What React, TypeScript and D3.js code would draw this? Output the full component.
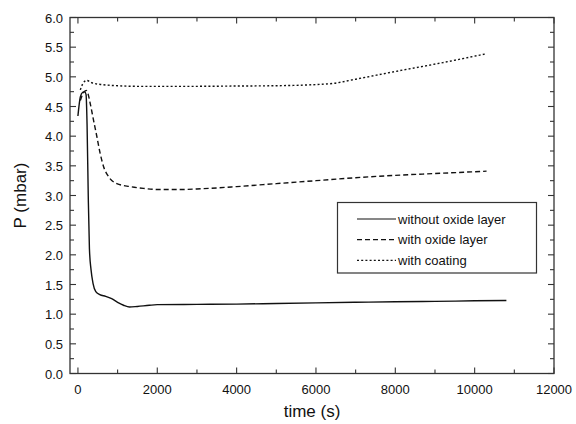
import * as d3 from 'd3';
import React, { useEffect, useRef } from "react";

// time (s) and pressure (mbar)
const timeNoOxide = [0, 60, 120, 170, 205, 230, 260, 290, 330, 380, 450, 550, 700, 850, 1000, 1150, 1300, 1500, 1800, 2000, 3000, 4000, 5000, 6000, 7000, 8000, 9000, 10000, 10800];
const pNoOxide = [4.34, 4.66, 4.74, 4.75, 4.7, 4.2, 3.0, 2.1, 1.75, 1.52, 1.38, 1.33, 1.3, 1.26, 1.2, 1.15, 1.12, 1.13, 1.15, 1.16, 1.165, 1.17, 1.18, 1.19, 1.2, 1.21, 1.215, 1.225, 1.23];

const timeOxide = [60, 130, 210, 260, 310, 393, 478, 560, 645, 770, 980, 1320, 1650, 2070, 2500, 3000, 4000, 5000, 6000, 7000, 8000, 9000, 10300];
const pOxide = [4.6, 4.72, 4.77, 4.7, 4.55, 4.27, 3.99, 3.71, 3.49, 3.32, 3.2, 3.15, 3.12, 3.1, 3.1, 3.11, 3.15, 3.2, 3.25, 3.3, 3.34, 3.37, 3.41];

const timeCoating = [60, 120, 220, 350, 600, 1000, 1500, 2000, 3000, 4000, 5000, 6000, 6440, 7000, 8000, 9200, 10300];
const pCoating = [4.78, 4.88, 4.94, 4.9, 4.87, 4.85, 4.84, 4.84, 4.84, 4.845, 4.85, 4.87, 4.89, 4.96, 5.09, 5.24, 5.39];

const seriesNames = ["without oxide layer", "with oxide layer", "with coating"];
const xTicks = [0, 2000, 4000, 6000, 8000, 10000, 12000];
const yTicks = [0, 0.5, 1, 1.5, 2, 2.5, 3, 3.5, 4, 4.5, 5, 5.5, 6];

const W = 576, H = 424;
const margin = { left: 70, right: 22, top: 17.5, bottom: 50.5 };
const dashes = [null, "5,3", "2,2.2"];

export default function App() {
  const ref = useRef<SVGSVGElement>(null);

  useEffect(() => {
    const svg = d3.select(ref.current);
    svg.selectAll('*').remove();
    const font = "'Liberation Sans', Arial, Helvetica, sans-serif";

    const x = d3.scaleLinear().domain([-200, 12000]).range([margin.left, W - margin.right]);
    const y = d3.scaleLinear().domain([0, 6]).range([H - margin.bottom, margin.top]);

    const g = svg.append("g").attr("font-family", font);

    // frame
    g.append("rect")
      .attr("x", x(-200)).attr("y", y(6))
      .attr("width", x(12000) - x(-200)).attr("height", y(0) - y(6))
      .attr("fill", "none").attr("stroke", "#333").attr("stroke-width", 1.3);

    // x ticks (inward, bottom and top)
    const xMinor = d3.range(0, 12001, 1000);
    xMinor.forEach(t => {
      const len = t % 2000 === 0 ? 6 : 4;
      g.append("line").attr("x1", x(t)).attr("x2", x(t)).attr("y1", y(0)).attr("y2", y(0) - len).attr("stroke", "#333").attr("stroke-width", 1.1);
      g.append("line").attr("x1", x(t)).attr("x2", x(t)).attr("y1", y(6)).attr("y2", y(6) + len).attr("stroke", "#333").attr("stroke-width", 1.1);
    });
    g.selectAll(".xlab").data(xTicks).enter().append("text")
      .attr("x", d => x(d)).attr("y", y(0) + 20)
      .attr("text-anchor", "middle").attr("font-size", 13).attr("fill", "#111")
      .text(d => String(d));

    // y ticks (inward, left and right)
    const yMinor = d3.range(0, 6.001, 0.25);
    yMinor.forEach(v => {
      const major = Math.abs(v * 2 - Math.round(v * 2)) < 1e-6;
      const len = major ? 6 : 4;
      g.append("line").attr("x1", x(-200)).attr("x2", x(-200) + len).attr("y1", y(v)).attr("y2", y(v)).attr("stroke", "#333").attr("stroke-width", 1.1);
      g.append("line").attr("x1", x(12000)).attr("x2", x(12000) - len).attr("y1", y(v)).attr("y2", y(v)).attr("stroke", "#333").attr("stroke-width", 1.1);
    });
    g.selectAll(".ylab").data(yTicks).enter().append("text")
      .attr("x", x(-200) - 7).attr("y", d => y(d) + 5)
      .attr("text-anchor", "end").attr("font-size", 13).attr("fill", "#111")
      .text(d => d.toFixed(1));

    // axis titles
    g.append("text")
      .attr("x", (x(-200) + x(12000)) / 2).attr("y", 417)
      .attr("text-anchor", "middle").attr("font-size", 17).attr("fill", "#111")
      .text("time (s)");
    g.append("text")
      .attr("transform", `translate(26,${(y(0) + y(6)) / 2}) rotate(-90)`)
      .attr("text-anchor", "middle").attr("font-size", 17).attr("fill", "#111")
      .text("P (mbar)");

    // curves
    const line = d3.line<[number, number]>()
      .x(d => x(d[0])).y(d => y(d[1]))
      .curve(d3.curveMonotoneX);
    const series: [number, number][][] = [
      timeNoOxide.map((t, i) => [t, pNoOxide[i]]),
      timeOxide.map((t, i) => [t, pOxide[i]]),
      timeCoating.map((t, i) => [t, pCoating[i]]),
    ];
    series.forEach((s, i) => {
      g.append("path")
        .attr("d", line(s))
        .attr("fill", "none").attr("stroke", "#111")
        .attr("stroke-width", 1.4)
        .attr("stroke-dasharray", dashes[i]);
    });

    // legend
    const lg = g.append("g");
    lg.append("rect").attr("x", 337.5).attr("y", 202.5).attr("width", 199).attr("height", 70.5)
      .attr("fill", "white").attr("stroke", "#333").attr("stroke-width", 1.2);
    seriesNames.forEach((name, i) => {
      const ly = 219 + i * 20.7;
      lg.append("line").attr("x1", 357).attr("x2", 396).attr("y1", ly).attr("y2", ly)
        .attr("stroke", "#111").attr("stroke-width", 1.2).attr("stroke-dasharray", dashes[i]);
      lg.append("text").attr("x", 398).attr("y", ly + 4.5)
        .attr("font-size", 13).attr("fill", "#111").text(name);
    });
  }, []);

  return (
    <svg ref={ref} width={W} height={H} style={{ position: 'absolute', left: 0, top: 0, background: 'white' }} />
  );
}
